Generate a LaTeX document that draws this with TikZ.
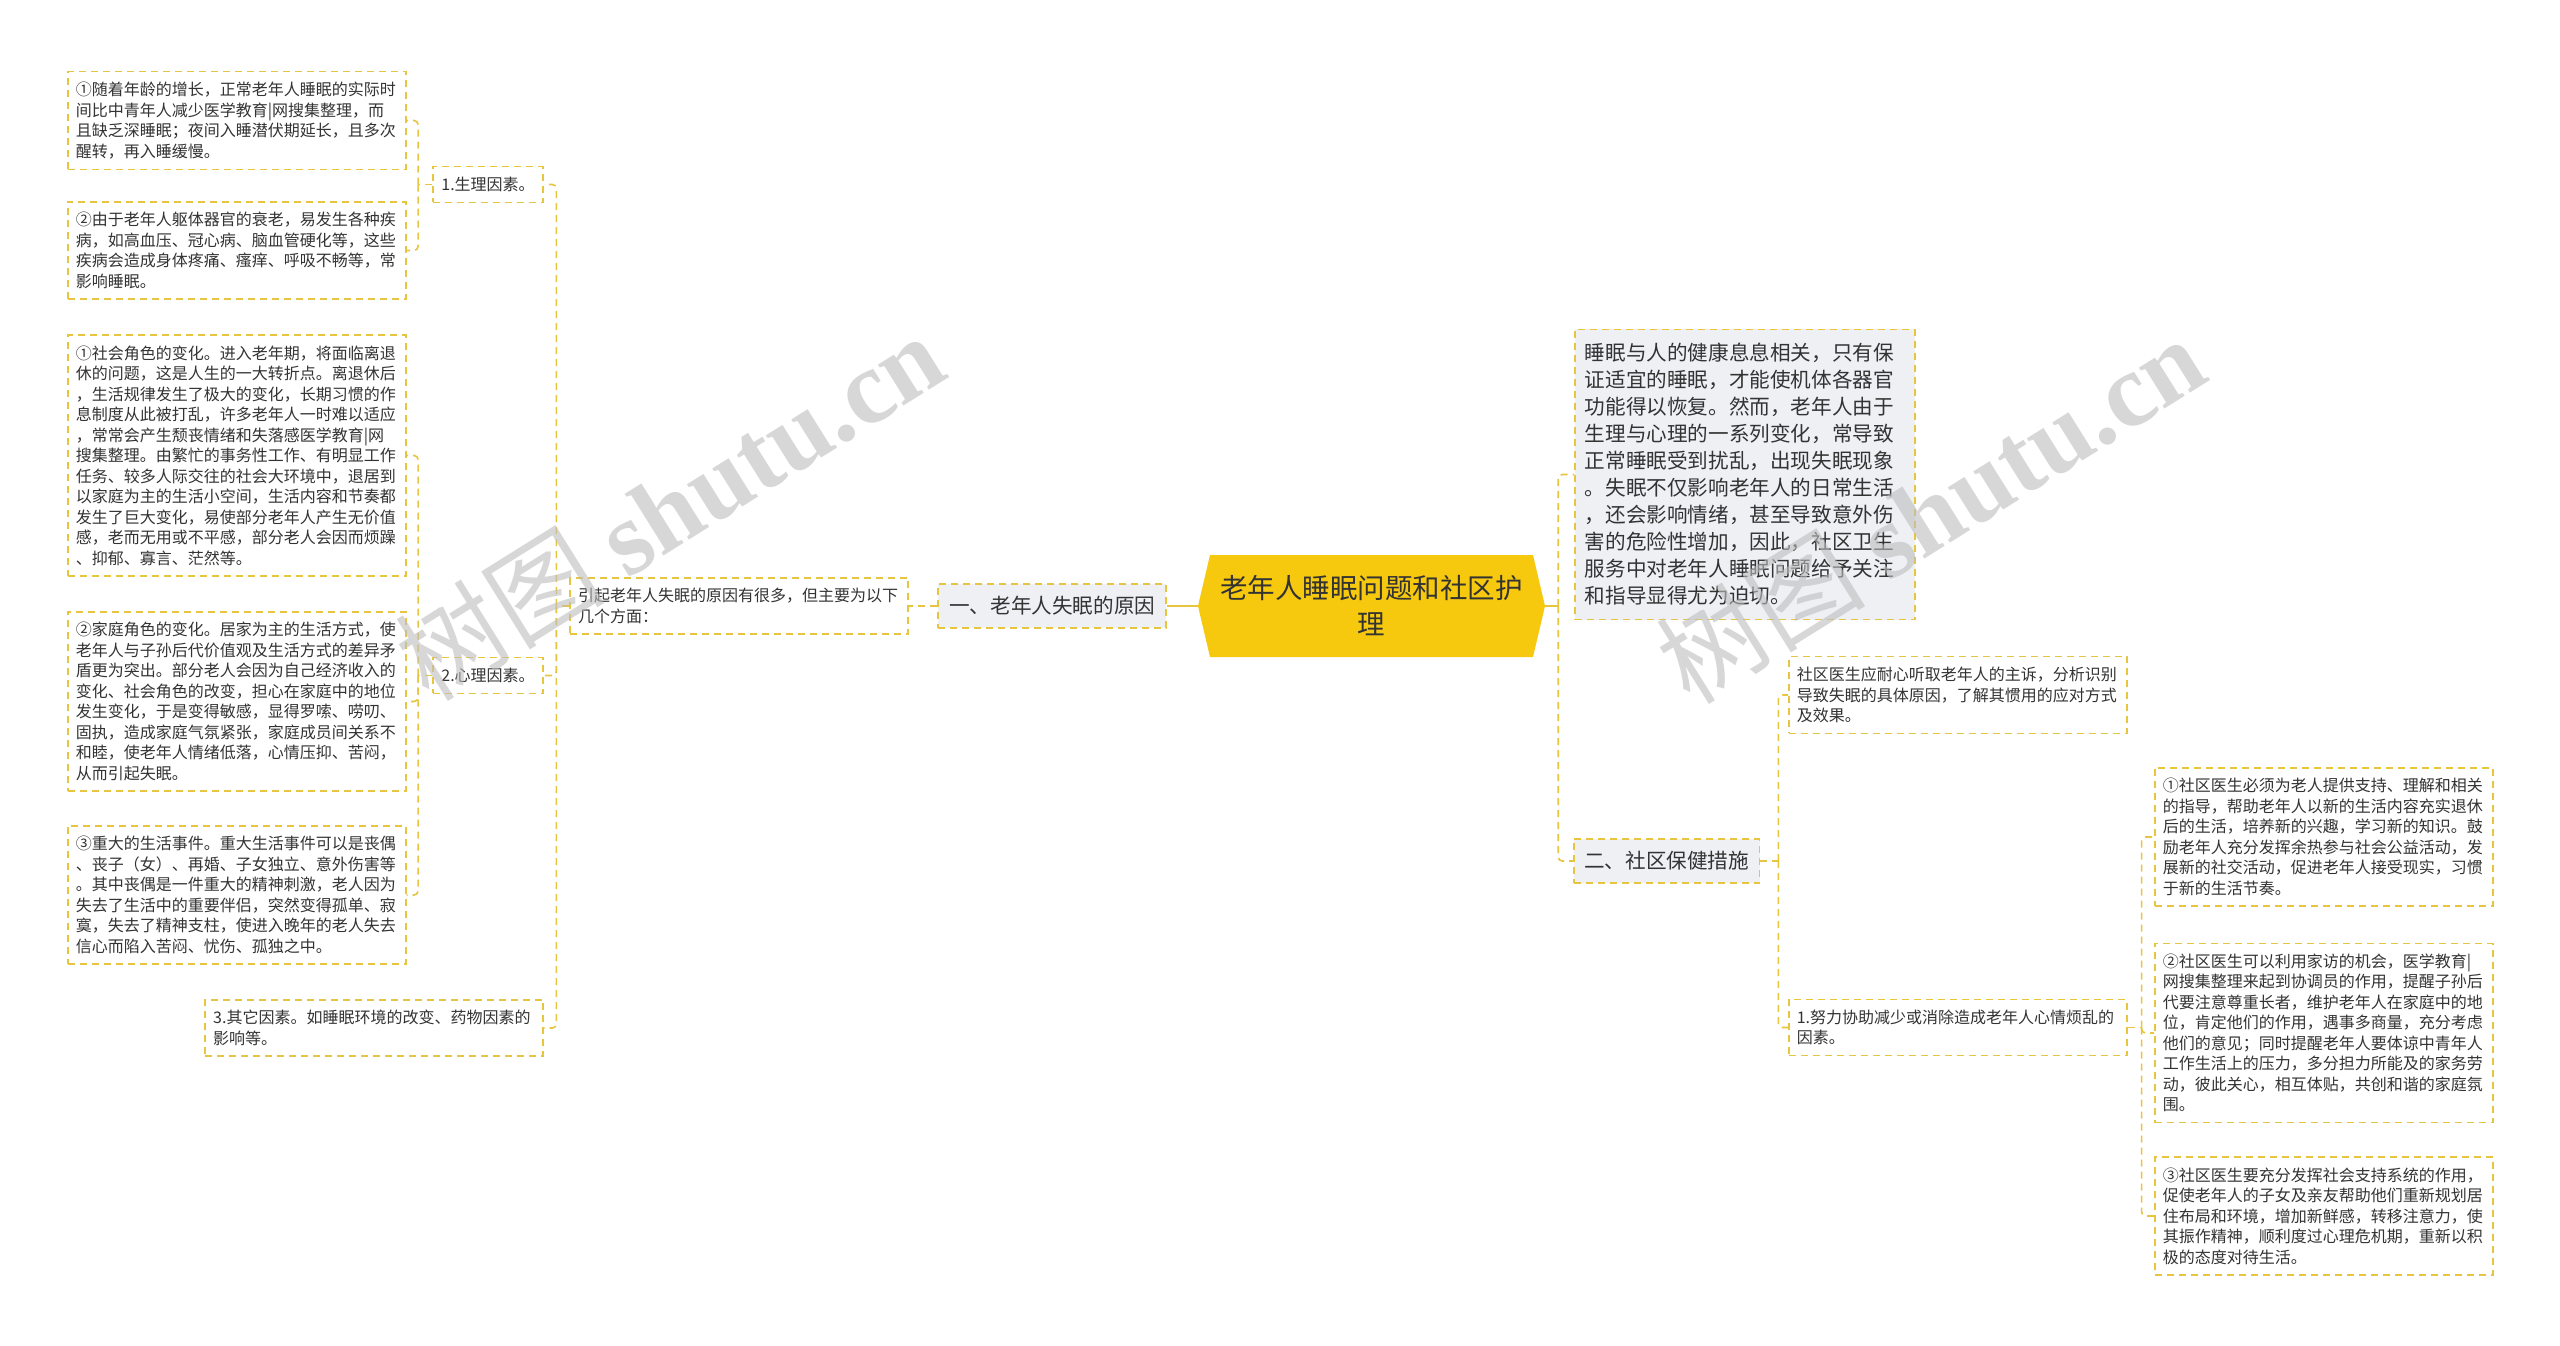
\documentclass[tikz,border=0pt]{standalone}
\usepackage{fontspec}
\setmainfont{Noto Sans CJK SC}
\newfontfamily\wmlat{Liberation Serif}
\usetikzlibrary{calc}
\definecolor{ylw}{HTML}{E8C53E}
\definecolor{rootc}{HTML}{F6C90E}
\definecolor{grayf}{HTML}{EEF0F4}
\definecolor{txt}{HTML}{333333}
\definecolor{wmc}{HTML}{BDBDBD}
\tikzset{
 boxbase/.style={draw=ylw, line width=1.6pt, dash pattern=on 7pt off 5pt, text=txt, font=\fontsize{16}{20.5}\selectfont, inner ysep=10.5pt},
 leaf/.style={boxbase, fill=white, align=left, text width=322pt, inner xsep=8pt},
 tagbox/.style={boxbase, fill=white, inner xsep=8.5pt},
 secbox/.style={boxbase, fill=grayf, font=\fontsize{20.6}{27}\selectfont, inner xsep=11pt, inner ysep=12.5pt},
 descbox/.style={boxbase, fill=grayf, font=\fontsize{20.6}{27}\selectfont, align=left, text width=320pt, inner xsep=10pt, inner ysep=14pt},
 rootn/.style={text=txt, font=\fontsize{27.5}{36}\selectfont, align=center, text width=310pt, minimum width=347pt, minimum height=102pt, inner sep=0pt},
 conn/.style={draw=ylw, line width=1.6pt, dash pattern=on 7pt off 5pt, rounded corners=4pt},
 solidc/.style={draw=ylw, line width=2.6pt},
 wm/.style={text=wmc, text opacity=0.6, font=\fontsize{105}{110}\selectfont, inner sep=0pt}
}
\begin{document}
\begin{tikzpicture}[x=1pt, y=-1pt]
\useasboundingbox (0,0) rectangle (2560,1345);
\fill[white] (0,0) rectangle (2560,1345);

% root
\fill[rootc] (1198,606) -- (1210,555) -- (1533,555) -- (1545,606) -- (1533,657) -- (1210,657) -- cycle;
\node[rootn] (root) at (1371.5,606) {老年人睡眠问题和社区护\\理};

% left side
\node[secbox, anchor=east] (s1) at (1167,606) {一、老年人失眠的原因};
\node[leaf, anchor=east] (intro) at (909,606) {引起老年人失眠的原因有很多，但主要为以下\\几个方面：};

\node[tagbox, anchor=east] (f1) at (544,184.5) {1.生理因素。};
\node[tagbox, anchor=east] (f2) at (544,675.5) {2.心理因素。};
\node[leaf, anchor=east] (f3) at (544,1028) {3.其它因素。如睡眠环境的改变、药物因素的\\影响等。};

\node[leaf, anchor=west] (p1) at (67,120.5) {①随着年龄的增长，正常老年人睡眠的实际时\\间比中青年人减少医学教育|网搜集整理，而\\且缺乏深睡眠；夜间入睡潜伏期延长，且多次\\醒转，再入睡缓慢。};
\node[leaf, anchor=west] (p2) at (67,250.5) {②由于老年人躯体器官的衰老，易发生各种疾\\病，如高血压、冠心病、脑血管硬化等，这些\\疾病会造成身体疼痛、瘙痒、呼吸不畅等，常\\影响睡眠。};

\node[leaf, anchor=west] (q1) at (67,455.5) {①社会角色的变化。进入老年期，将面临离退\\休的问题，这是人生的一大转折点。离退休后\\，生活规律发生了极大的变化，长期习惯的作\\息制度从此被打乱，许多老年人一时难以适应\\，常常会产生颓丧情绪和失落感医学教育|网\\搜集整理。由繁忙的事务性工作、有明显工作\\任务、较多人际交往的社会大环境中，退居到\\以家庭为主的生活小空间，生活内容和节奏都\\发生了巨大变化，易使部分老年人产生无价值\\感，老而无用或不平感，部分老人会因而烦躁\\、抑郁、寡言、茫然等。};
\node[leaf, anchor=west] (q2) at (67,701.5) {②家庭角色的变化。居家为主的生活方式，使\\老年人与子孙后代价值观及生活方式的差异矛\\盾更为突出。部分老人会因为自己经济收入的\\变化、社会角色的改变，担心在家庭中的地位\\发生变化，于是变得敏感，显得罗嗦、唠叨、\\固执，造成家庭气氛紧张，家庭成员间关系不\\和睦，使老年人情绪低落，心情压抑、苦闷，\\从而引起失眠。};
\node[leaf, anchor=west] (q3) at (67,895) {③重大的生活事件。重大生活事件可以是丧偶\\、丧子（女）、再婚、子女独立、意外伤害等\\。其中丧偶是一件重大的精神刺激，老人因为\\失去了生活中的重要伴侣，突然变得孤单、寂\\寞，失去了精神支柱，使进入晚年的老人失去\\信心而陷入苦闷、忧伤、孤独之中。};

% right side
\node[descbox, anchor=west] (desc) at (1574,474.5) {睡眠与人的健康息息相关，只有保\\证适宜的睡眠，才能使机体各器官\\功能得以恢复。然而，老年人由于\\生理与心理的一系列变化，常导致\\正常睡眠受到扰乱，出现失眠现象\\。失眠不仅影响老年人的日常生活\\，还会影响情绪，甚至导致意外伤\\害的危险性增加，因此，社区卫生\\服务中对老年人睡眠问题给予关注\\和指导显得尤为迫切。};
\node[secbox, anchor=west, inner xsep=10.5pt] (s2) at (1573,861) {二、社区保健措施};

\node[leaf, anchor=west] (r1) at (1788,695) {社区医生应耐心听取老年人的主诉，分析识别\\导致失眠的具体原因，了解其惯用的应对方式\\及效果。};
\node[leaf, anchor=west] (r2) at (1788,1027.5) {1.努力协助减少或消除造成老年人心情烦乱的\\因素。};

\node[leaf, anchor=west] (t1) at (2154,837) {①社区医生必须为老人提供支持、理解和相关\\的指导，帮助老年人以新的生活内容充实退休\\后的生活，培养新的兴趣，学习新的知识。鼓\\励老年人充分发挥余热参与社会公益活动，发\\展新的社交活动，促进老年人接受现实，习惯\\于新的生活节奏。};
\node[leaf, anchor=west] (t2) at (2154,1033) {②社区医生可以利用家访的机会，医学教育|\\网搜集整理来起到协调员的作用，提醒子孙后\\代要注意尊重长者，维护老年人在家庭中的地\\位，肯定他们的作用，遇事多商量，充分考虑\\他们的意见；同时提醒老年人要体谅中青年人\\工作生活上的压力，多分担力所能及的家务劳\\动，彼此关心，相互体贴，共创和谐的家庭氛\\围。};
\node[leaf, anchor=west] (t3) at (2154,1216) {③社区医生要充分发挥社会支持系统的作用，\\促使老年人的子女及亲友帮助他们重新规划居\\住布局和环境，增加新鲜感，转移注意力，使\\其振作精神，顺利度过心理危机期，重新以积\\极的态度对待生活。};

% junctions
\coordinate (jl) at ([xshift=-13pt]intro.west);
\coordinate (j1) at ([xshift=-14pt]f1.west);
\coordinate (j2) at ([xshift=-14pt]f2.west);
\coordinate (jr) at ([xshift=13pt]root.east);
\coordinate (js) at ([xshift=18pt]s2.east);
\coordinate (jt) at ([xshift=14pt]r2.east);

% connectors left
\draw[solidc] (root.west) -- (s1.east);
\draw[conn] (s1.west) -- (intro.east);
\draw[conn] (intro.west) -- (jl);
\draw[conn] (jl) |- (f1.east);
\draw[conn] (jl) |- (f2.east);
\draw[conn] (jl) |- (f3.east);
\draw[conn] (f1.west) -- (j1);
\draw[conn] (j1) |- (p1.east);
\draw[conn] (j1) |- (p2.east);
\draw[conn] (f2.west) -- (j2);
\draw[conn] (j2) |- (q1.east);
\draw[conn] (j2) |- (q2.east);
\draw[conn] (j2) |- (q3.east);

% connectors right
\draw[solidc] (root.east) -- (jr);
\draw[conn] (jr) |- (desc.west);
\draw[conn] (jr) |- (s2.west);
\draw[conn] (s2.east) -- (js);
\draw[conn] (js) |- (r1.west);
\draw[conn] (js) |- (r2.west);
\draw[conn] (r2.east) -- (jt);
\draw[conn] (jt) |- (t1.west);
\draw[conn] (jt) |- (t2.west);
\draw[conn] (jt) |- (t3.west);

% watermarks
\node[wm, rotate=32] (wmA) at (669,506) {树图 {\wmlat\bfseries shutu.cn}};
\node[wm, rotate=32] (wmB) at (1930,509) {树图 {\wmlat\bfseries shutu.cn}};
\end{tikzpicture}
\end{document}
